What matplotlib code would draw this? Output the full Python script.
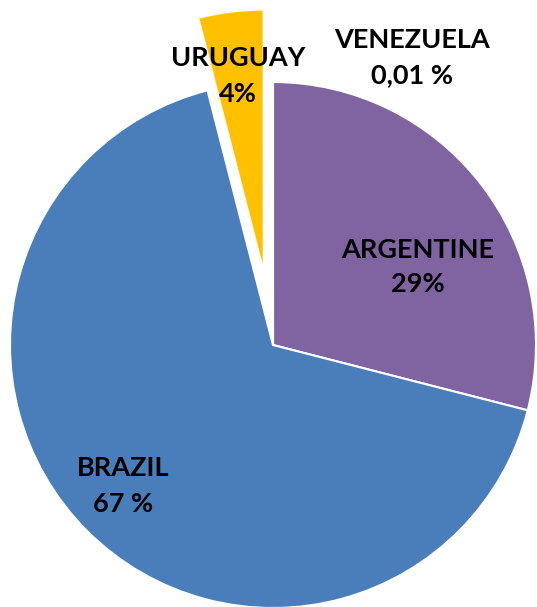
import matplotlib.pyplot as plt

countries = ["ARGENTINE", "BRAZIL", "URUGUAY", "VENEZUELA"]
shares = [29, 67, 4, 0.01]
labels = ["ARGENTINE\n29%", "BRAZIL\n67 %", "URUGUAY\n4%", "VENEZUELA\n0,01 %"]
colors = ["#8064A2", "#4A7EBB", "#FFC000", "#C0504D"]


def main():
    plt.rcParams['font.family'] = ['Lato', 'DejaVu Sans']
    fig = plt.figure(figsize=(5.37, 6.07), dpi=100)
    ax = fig.add_axes([0, 0, 1, 1])

    W, H = 537, 607
    # uruguay pulled out of the pie (offset in data units)
    explode = [73 if c == "URUGUAY" else 0 for c in countries]
    ax.pie(shares, colors=colors, explode=explode, startangle=90,
           counterclock=False, center=(273, H - 345), radius=263,
           wedgeprops=dict(edgecolor="white", linewidth=1.5))

    # label positions in pixel coordinates (x, y from top)
    label_pos = [(418, 267), (123, 486), (238, 76), (412, 58)]
    for text, (x, y) in zip(labels, label_pos):
        ax.text(x, H - y, text, ha="center", va="center", fontsize=19.5,
                fontweight="bold", linespacing=1.55, color="black")

    ax.set_xlim(0, W)
    ax.set_ylim(0, H)
    ax.set_aspect("equal")
    ax.axis("off")

    fig.savefig("out.png", dpi=100)


if __name__ == "__main__":
    main()
